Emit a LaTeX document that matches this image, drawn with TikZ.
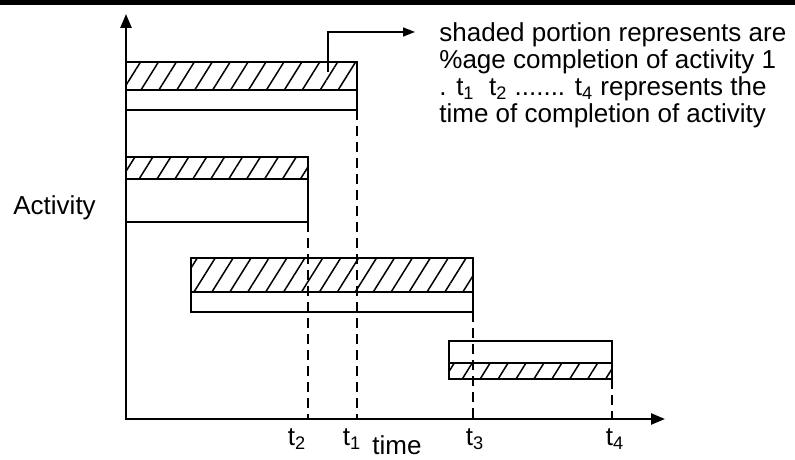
\documentclass[tikz,border=0pt]{standalone}
\usepackage{fontspec}
\setmainfont{Liberation Sans}
\usetikzlibrary{positioning}
\usetikzlibrary{arrows.meta, patterns.meta}
\tikzset{
	txt/.style={font=\fontsize{13}{13.5}\selectfont, inner sep=0pt},
	bar/.style={draw, line width=1pt, inner sep=0pt, outer sep=0pt, anchor=north west},
	done/.style={bar, pattern={Lines[angle=58, distance=7.6pt, line width=0.75pt]}},
	guide/.style={dash pattern=on 5pt off 3pt, line width=1pt},
	axis/.style={line width=1.2pt, {Triangle[length=7pt,width=5.5pt]}-{Triangle[length=7pt,width=5.5pt]}},
	callout/.style={line width=0.8pt, -{Triangle[length=6pt,width=4.5pt]}}
}

\begin{document}
\begin{tikzpicture}[x=0.5pt, y=-0.5pt]
	\useasboundingbox (0,0) rectangle (795,459);
	% Top rule
	\fill (0,0) rectangle (795,5);

	% Axes
	\coordinate (o) at (126,419);
	\coordinate (ytip) at (126,14);
	\coordinate (xtip) at (665,419);
	\draw[axis] (ytip) -- (o) -- (xtip);
	\node[txt, anchor=base west] (act) at (13,215) {Activity};

	% Activities: shaded part and rest
	\node[done, minimum width=115.5pt, minimum height=14pt] (a1done) at (126,62) {};
	\node[bar, minimum width=115.5pt, minimum height=10pt] (a1rest) at (126,90) {};
	\node[done, minimum width=91pt, minimum height=11pt] (a2done) at (126,157) {};
	\node[bar, minimum width=91pt, minimum height=21.5pt] (a2rest) at (126,179) {};
	\node[done, minimum width=141pt, minimum height=17pt] (a3done) at (191,258) {};
	\node[bar, minimum width=141pt, minimum height=10pt] (a3rest) at (191,292) {};
	\node[bar, minimum width=81.5pt, minimum height=11pt] (a4rest) at (449,341) {};
	\node[done, minimum width=81.5pt, minimum height=8pt] (a4done) at (449,363) {};

	% Completion times
	\draw[guide] (a1rest.south east) -- (a1rest.south east |- o);
	\draw[guide] (a2rest.south east) -- (a2rest.south east |- o);
	\draw[guide] (a3rest.south east) -- (a3rest.south east |- o);
	\draw[guide] (a4done.south east) -- (a4done.south east |- o);
	\node[txt, anchor=base] (t2) at (297,445) {t\textsubscript{2}};
	\node[txt, anchor=base] (t1) at (352,445) {t\textsubscript{1}};
	\node[txt, anchor=base] (t3) at (475,445) {t\textsubscript{3}};
	\node[txt, anchor=base] (t4) at (615,445) {t\textsubscript{4}};
	\node[txt, anchor=base] (time) at (397,454) {time};

	% Note
	\node[txt, align=left, anchor=north west] (note) at (439,22)
		{shaded portion represents are\\
		 \%age completion of activity 1\\
		 . t\textsubscript{1}\ \ t\textsubscript{2} ....... t\textsubscript{4} represents the\\
		 time of completion of activity};
	\coordinate (pin) at (328,72);
	\coordinate (pinend) at (415,32);
	\draw[callout] (pin) |- (pinend);
\end{tikzpicture}
\end{document}
